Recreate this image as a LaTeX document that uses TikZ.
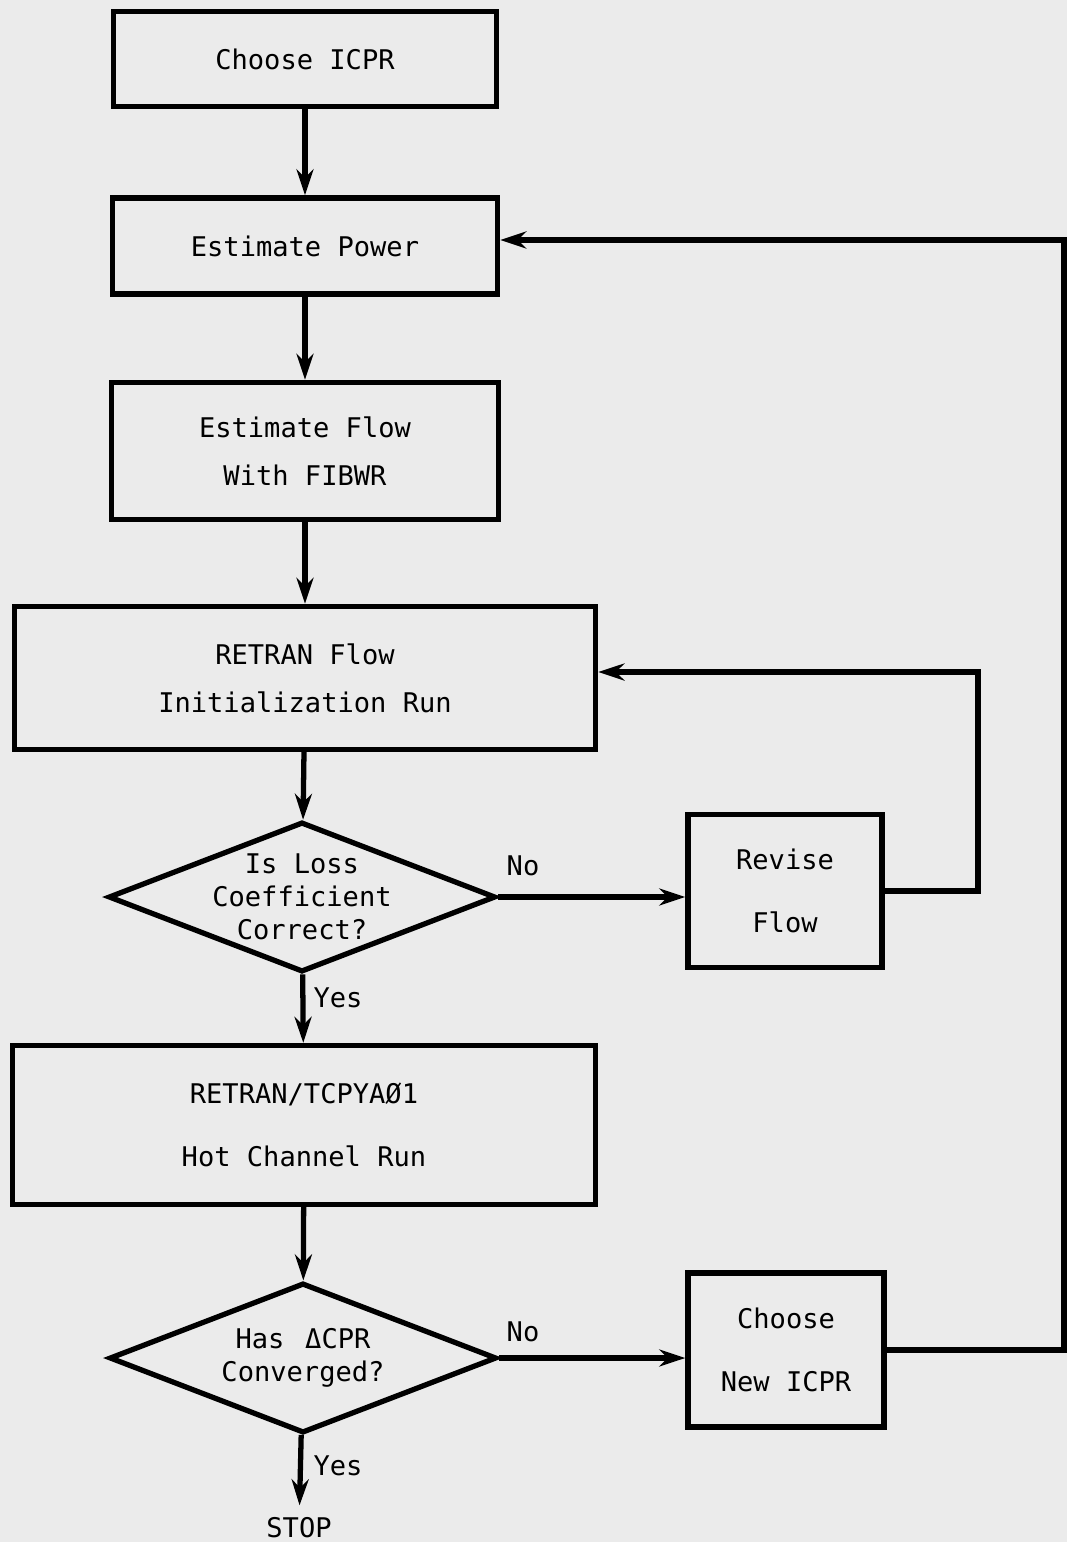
\documentclass[tikz,border=0pt]{standalone}
\usepackage{fontspec}
\setmonofont{DejaVu Sans Mono}
\usetikzlibrary{shapes.geometric,arrows.meta,positioning}
\newcommand\chartfont{\ttfamily\fontsize{7.7}{9.4}\selectfont}

\tikzset{
  box/.style={draw, rectangle, line width=1.5pt, inner sep=0pt, align=center, font=\chartfont},
  query/.style={draw, diamond, aspect=2.58, line width=1.5pt, inner xsep=0pt, inner ysep=-2.5pt,
    align=center, font=\chartfont, minimum width=3.87cm, minimum height=1.5cm},
  flow/.style={line width=1.5pt, -{Stealth[length=2.6mm,width=1.7mm]}},
  tag/.style={font=\chartfont}
}

\begin{document}
\begin{tikzpicture}[x=0.01cm, y=-0.01cm]
\useasboundingbox[fill=black!8] (0,0) rectangle (1067,1542);

%main column
\node[box, minimum width=3.83cm, minimum height=0.95cm] (choose) at (305,59) {Choose ICPR};
\node[box, minimum width=3.85cm, minimum height=0.96cm] (power) at (305,246) {Estimate Power};
\node[box, minimum width=3.87cm, minimum height=1.37cm] (estflow) at (305,451) {Estimate Flow\\[4.2pt]With FIBWR};
\node[box, minimum width=5.81cm, minimum height=1.43cm] (initrun) at (305,678) {RETRAN Flow\\[4.2pt]Initialization Run};
\node[query] (losschk) at (302,897) {Is Loss\\Coefficient\\Correct?};
\node[box, minimum width=5.82cm, minimum height=1.59cm] (hotrun) at (304,1125) {RETRAN/TCPYAØ1\\[8.7pt]Hot Channel Run};
\node[query] (cprchk) at (303,1358) {Has \,ΔCPR\\Converged?};
\node[tag] (stop) at (299,1528) {STOP};

%side boxes
\node[box, minimum width=1.94cm, minimum height=1.53cm] (revise) at (785,891) {Revise\\[8.7pt]Flow};
\node[box, minimum width=1.96cm, minimum height=1.54cm] (newicpr) at (786,1350) {Choose\\[8.7pt]New ICPR};

%loop corners
\coordinate (loopa) at (978,672);
\coordinate (loopb) at (1064,240);

\draw[flow] (choose) -- (power);
\draw[flow] (power) -- (estflow);
\draw[flow] (estflow) -- (initrun);
\draw[flow] (initrun) -- (losschk);
\draw[flow] (losschk) -- (hotrun);
\draw[flow] (hotrun) -- (cprchk);
\draw[flow] (cprchk) -- (stop);
\draw[flow] (losschk.east) -- (revise.west |- losschk.east);
\draw[flow] (cprchk.east) -- (newicpr.west |- cprchk.east);
\draw[flow] (revise.east) -| (loopa) -- (initrun.east |- loopa);
\draw[flow] (newicpr.east) -| (loopb) -- (power.east |- loopb);

%labels
\node[tag] (no1) at (523,866) {No};
\node[tag] (yes1) at (338,998) {Yes};
\node[tag] (no2) at (523,1332) {No};
\node[tag] (yes2) at (338,1466) {Yes};
\end{tikzpicture}
\end{document}
